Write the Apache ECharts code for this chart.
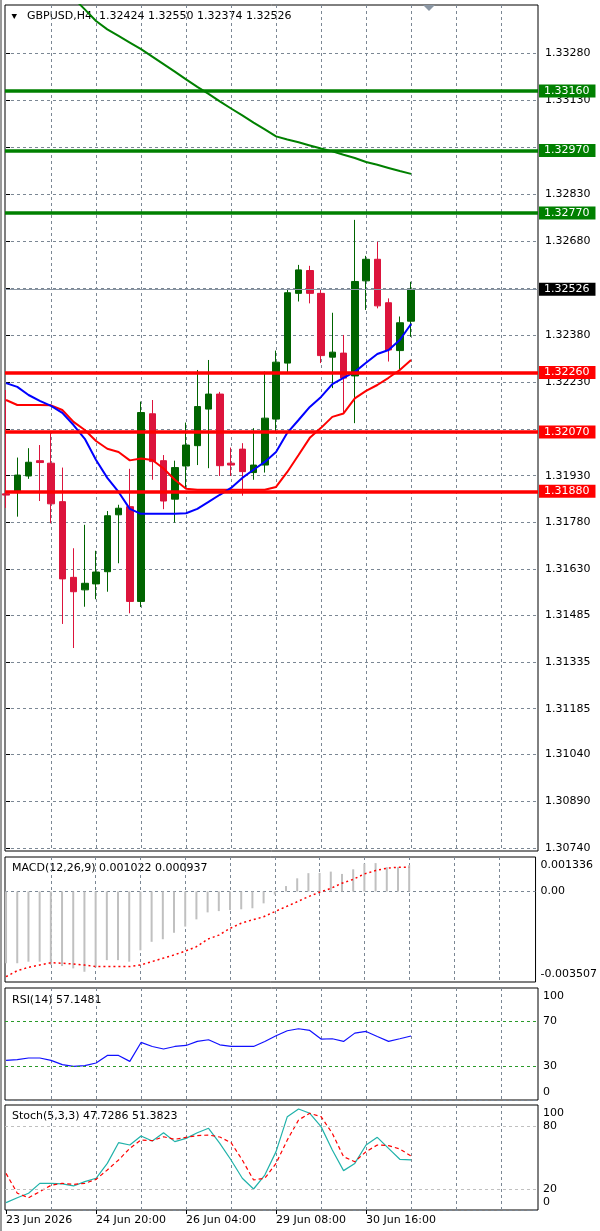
<!DOCTYPE html>
<html>
<head>
<meta charset="utf-8">
<title>GBPUSD H4</title>
<script src="https://cdn.jsdelivr.net/npm/echarts@6.0.0/dist/echarts.min.js"></script>
<style>html,body{margin:0;padding:0;background:#fff;}</style>
</head>
<body>
<div id="main" style="width:600px;height:1231px;"></div>
<script type="text/javascript">
// price grid lines (main window)
var priceTicks = ['1.33280', '1.33130', '1.32980', '1.32830', '1.32680', '1.32530', '1.32380', '1.32230', '1.32080',
    '1.31930', '1.31780', '1.31630', '1.31485', '1.31335', '1.31185', '1.31040', '1.30890', '1.30740'];
// price labels that are not hidden behind a level box
var priceLabels = ['1.33280', '1.33130', '1.32830', '1.32680', '1.32380', '1.32230',
    '1.31930', '1.31780', '1.31630', '1.31485', '1.31335', '1.31185', '1.31040', '1.30890', '1.30740'];
// time labels at bar positions
var xTickIdx = [0, 8, 16, 24, 32];
var xTickLabels = ['23 Jun 2026', '24 Jun 20:00', '26 Jun 04:00', '29 Jun 08:00', '30 Jun 16:00'];
// vertical grid every 4 bars
var vGridIdx = [4, 8, 12, 16, 20, 24, 28, 32, 36, 40, 44];

// H4 candles
var opens  = [1.31872, 1.31876, 1.31929, 1.31978, 1.31970, 1.31847, 1.31605, 1.31565, 1.31584, 1.31623, 1.31805, 1.31831, 1.31528,
    1.32128, 1.31978, 1.31855, 1.31961, 1.32026, 1.32143, 1.32191, 1.31970, 1.32015, 1.31940, 1.31964, 1.32111, 1.32290,
    1.32513, 1.32586, 1.32513, 1.32309, 1.32322, 1.32249, 1.32553, 1.32622, 1.32483, 1.32330, 1.32424];
var closes = [1.31868, 1.31932, 1.31973, 1.31972, 1.31840, 1.31600, 1.31559, 1.31586, 1.31622, 1.31802, 1.31826, 1.31528, 1.32132,
    1.31975, 1.31849, 1.31956, 1.32028, 1.32151, 1.32191, 1.31962, 1.31964, 1.31943, 1.31964, 1.32114, 1.32293, 1.32515,
    1.32588, 1.32513, 1.32314, 1.32325, 1.32242, 1.32551, 1.32622, 1.32473, 1.32332, 1.32419, 1.32526];
var lows   = [1.31827, 1.31799, 1.31920, 1.31849, 1.31778, 1.31456, 1.31379, 1.31511, 1.31535, 1.31559, 1.31650, 1.31490, 1.31510,
    1.31917, 1.31823, 1.31780, 1.31890, 1.31964, 1.31954, 1.31929, 1.31929, 1.31866, 1.31917, 1.31940, 1.32071, 1.32258,
    1.32487, 1.32481, 1.32290, 1.32210, 1.32130, 1.32098, 1.32460, 1.32465, 1.32295, 1.32266, 1.32374];
var highs  = [1.32204, 1.31988, 1.32018, 1.32028, 1.32071, 1.31956, 1.31698, 1.31773, 1.31690, 1.31817, 1.31837, 1.31952, 1.32167,
    1.32172, 1.31996, 1.31978, 1.32100, 1.32268, 1.32300, 1.32198, 1.32020, 1.32034, 1.32082, 1.32263, 1.32330, 1.32524,
    1.32604, 1.32601, 1.32526, 1.32451, 1.32380, 1.32748, 1.32633, 1.32678, 1.32497, 1.32439, 1.32550];

// moving averages
var maFast = [1.32226, 1.32214, 1.32188, 1.32169, 1.32153, 1.32131, 1.32092, 1.32048, 1.31980, 1.31923, 1.31878, 1.31824, 1.31808,
    1.31808, 1.31808, 1.31808, 1.31810, 1.31824, 1.31846, 1.31869, 1.31891, 1.31923, 1.31949, 1.31974, 1.32006, 1.32067,
    1.32108, 1.32150, 1.32182, 1.32223, 1.32243, 1.32262, 1.32291, 1.32319, 1.32332, 1.32364, 1.32415];
var maSlow = [1.32172, 1.32156, 1.32156, 1.32156, 1.32155, 1.32140, 1.32102, 1.32076, 1.32041, 1.32016, 1.32006, 1.31979, 1.31985,
    1.31980, 1.31953, 1.31917, 1.31888, 1.31885, 1.31885, 1.31885, 1.31885, 1.31885, 1.31885, 1.31885, 1.31894, 1.31942,
    1.31996, 1.32051, 1.32083, 1.32118, 1.32129, 1.32177, 1.32201, 1.32220, 1.32243, 1.32268, 1.32300];
var maLongStart = 6;
var maLong = [1.33457, 1.33421, 1.33384, 1.33357, 1.33336, 1.33315, 1.33294, 1.33270, 1.33246, 1.33222, 1.33197, 1.33173,
    1.33151, 1.33127, 1.33104, 1.33082, 1.33059, 1.33037, 1.33015, 1.33005, 1.32996, 1.32986, 1.32976, 1.32967, 1.32956,
    1.32946, 1.32933, 1.32924, 1.32914, 1.32904, 1.32895];

// horizontal levels
var levelsRes = [1.33160, 1.32970, 1.32770];
var levelsSup = [1.32260, 1.32070, 1.31880];
var lastPrice = 1.32526;

// MACD(12,26,9)
var macdMain = [-0.00278, -0.00278, -0.00272, -0.00272, -0.00285, -0.00289, -0.00298, -0.00311, -0.00294, -0.00266, -0.00266,
    -0.00272, -0.00228, -0.00195, -0.00185, -0.00160, -0.00136, -0.00108, -0.00081, -0.00076, -0.00072, -0.00069, -0.00065,
    -0.00046, -0.00012, 0.00021, 0.00051, 0.00071, 0.00072, 0.00077, 0.00068, 0.00086, 0.00108, 0.00110, 0.00094, 0.00094, 0.001022];
var macdSignal = [-0.00330, -0.00307, -0.00294, -0.00285, -0.00276, -0.00278, -0.00281, -0.00285, -0.00291, -0.00291, -0.00291,
    -0.00291, -0.00285, -0.00272, -0.00259, -0.00246, -0.00231, -0.00214, -0.00185, -0.00169, -0.00143, -0.00123, -0.00110,
    -0.00098, -0.00078, -0.00059, -0.00040, -0.00020, -0.00003, 0.00012, 0.00032, 0.00047, 0.00068, 0.00081, 0.00090, 0.00094, 0.000937];
var macdTicks = [-0.003507, 0, 0.001336];
var macdTickLabels = ['-0.003507', '0.00', '0.001336'];

// RSI(14)
var rsi = [35.4, 36.0, 37.5, 37.5, 35.4, 31.6, 30.0, 30.7, 33.0, 39.8, 39.8, 34.5, 51.4, 47.8, 45.5, 47.8, 48.7, 52.3, 53.8,
    49.3, 47.8, 47.8, 47.8, 52.3, 57.3, 61.8, 63.6, 62.1, 54.4, 54.7, 52.3, 59.7, 61.2, 56.7, 52.3, 54.7, 57.1481];
var rsiTicks = [0, 30, 70, 100];
var rsiLevels = [30, 70];

// Stochastic(5,3,3)
var stochK = [7.0, 11.7, 15.9, 25.4, 25.4, 24.8, 22.9, 27.0, 30.2, 44.4, 64.1, 61.9, 70.5, 65.7, 73.6, 65.1, 68.2, 73.6, 77.8,
    63.5, 47.6, 30.2, 20.0, 33.3, 55.6, 88.9, 96.2, 92.1, 79.4, 57.1, 37.5, 44.4, 61.9, 69.2, 58.7, 48.3, 47.7286];
var stochD = [34.9, 16.0, 11.7, 17.5, 23.5, 25.4, 24.4, 25.4, 29.2, 38.1, 47.6, 58.7, 66.7, 66.0, 69.8, 67.3, 69.2, 70.8, 71.4,
    69.5, 64.1, 47.6, 28.6, 30.2, 44.4, 66.7, 85.7, 92.1, 88.9, 73.0, 50.8, 46.0, 55.6, 61.9, 61.3, 58.1, 51.3823];
var stochTicks = [0, 20, 80, 100];
var stochLevels = [20, 80];

var FONT = 'DejaVu Sans';
var gridColor = '#7b8794';
var xMin = -0.0933, xMax = 47.2844;

var myChart = echarts.init(document.getElementById('main'));

function pairs(arr, start) {
    start = start || 0;
    return arr.map(function (v, i) { return [i + start, v]; });
}

function xAx(gi) {
    return {
        type: 'value', gridIndex: gi, min: xMin, max: xMax,
        axisLine: { show: false },
        axisTick: { show: false, customValues: vGridIdx },
        axisLabel: { show: false },
        splitLine: { show: true, lineStyle: { color: gridColor, type: [3, 3], width: 1 } }
    };
}

// labels at the top / bottom edge of an indicator window are pushed inside
function edgeLabel(ticks, labels) {
    return function (v) {
        var k = ticks.indexOf(v);
        var s = k >= 0 ? labels[k] : String(v);
        if (v === ticks[ticks.length - 1]) return '{t|' + s + '}';
        if (v === ticks[0]) return '{b|' + s + '}';
        return s;
    };
}
var edgeRich = {
    t: { padding: [16, 0, 0, 0], fontFamily: FONT, fontSize: 11, color: '#000' },
    b: { padding: [0, 0, 16, 0], fontFamily: FONT, fontSize: 11, color: '#000' }
};

function indY(gi, min, max, ticks, labels) {
    return {
        type: 'value', gridIndex: gi, position: 'right', min: min, max: max,
        axisLine: { show: false },
        axisTick: { show: false, customValues: [min] },
        axisLabel: {
            show: true, customValues: ticks, margin: 5, color: '#000', fontFamily: FONT, fontSize: 11,
            formatter: edgeLabel(ticks, labels), rich: edgeRich
        },
        splitLine: { show: true, lineStyle: { color: gridColor, type: [3, 3], width: 1 } }
    };
}

var priceVals = priceTicks.map(Number);
var priceLabelVals = priceLabels.map(Number);
var candleData = opens.map(function (o, i) { return [i, o, closes[i], lows[i], highs[i]]; });

var levelLines = [];
levelsRes.forEach(function (v) {
    levelLines.push({ yAxis: v, lineStyle: { color: '#008000', width: 3.5, type: 'solid' },
        label: { backgroundColor: '#008000', color: '#fff' } });
});
levelsSup.forEach(function (v) {
    levelLines.push({ yAxis: v, lineStyle: { color: '#ff0000', width: 3.5, type: 'solid' },
        label: { backgroundColor: '#ff0000', color: '#fff' } });
});
levelLines.push({ yAxis: lastPrice, lineStyle: { color: '#8a96a3', width: 1, type: 'solid' },
    label: { backgroundColor: '#000', color: '#fff' } });

var option = {
    animation: false,
    backgroundColor: '#fff',
    grid: [
        { left: 5, top: 5, width: 533, height: 846, show: true, borderColor: '#000', borderWidth: 1 },
        { left: 5, top: 857, width: 533, height: 125, show: true, borderColor: '#000', borderWidth: 1 },
        { left: 5, top: 988, width: 533, height: 112, show: true, borderColor: '#000', borderWidth: 1 },
        { left: 5, top: 1105, width: 533, height: 105, show: true, borderColor: '#000', borderWidth: 1 }
    ],
    xAxis: [
        xAx(0), xAx(1), xAx(2), xAx(3),
        {
            type: 'value', gridIndex: 3, position: 'bottom', min: xMin, max: xMax,
            axisLine: { show: false },
            axisTick: { show: true, customValues: xTickIdx, length: 4, lineStyle: { color: '#000' } },
            axisLabel: {
                show: true, customValues: xTickIdx, align: 'left', margin: 5, color: '#000',
                fontFamily: FONT, fontSize: 11,
                formatter: function (v) { return xTickLabels[xTickIdx.indexOf(v)]; }
            },
            splitLine: { show: false }
        }
    ],
    yAxis: [
        {
            type: 'value', gridIndex: 0, position: 'right', min: 1.30730, max: 1.33435,
            axisLine: { show: false },
            axisTick: { show: true, customValues: priceVals, length: 4, lineStyle: { color: '#000' } },
            axisLabel: {
                show: true, customValues: priceLabelVals, margin: 7, color: '#000', fontFamily: FONT, fontSize: 11,
                formatter: function (v) { return v.toFixed(5); }
            },
            splitLine: { show: true, lineStyle: { color: gridColor, type: [3, 3], width: 1 } }
        },
        (function () {
            var a = indY(1, -0.003507, 0.001336, macdTicks, macdTickLabels);
            a.axisTick.customValues = [0];
            return a;
        })(),
        indY(2, 0, 100, rsiTicks, rsiTicks.map(String)),
        indY(3, 0, 100, stochTicks, stochTicks.map(String))
    ],
    graphic: [
        { type: 'rect', shape: { x: 0, y: 0, width: 2, height: 1231 }, style: { fill: '#9a9a9a' } },
        { type: 'polygon', shape: { points: [[11.5, 14], [17, 14], [14.25, 19]] }, style: { fill: '#000' } },
        { type: 'polygon', shape: { points: [[423, 5], [435, 5], [429, 11]] }, style: { fill: '#8a96a3' } },
        { type: 'text', x: 27, y: 16.5, style: { text: 'GBPUSD,H4  1.32424 1.32550 1.32374 1.32526',
            font: '11px "DejaVu Sans"', fill: '#000', verticalAlign: 'middle' } },
        { type: 'text', x: 12, y: 868, style: { text: 'MACD(12,26,9) 0.001022 0.000937',
            font: '11px "DejaVu Sans"', fill: '#000', verticalAlign: 'middle' } },
        { type: 'text', x: 12, y: 1000, style: { text: 'RSI(14) 57.1481',
            font: '11px "DejaVu Sans"', fill: '#000', verticalAlign: 'middle' } },
        { type: 'text', x: 12, y: 1116, style: { text: 'Stoch(5,3,3) 47.7286 51.3823',
            font: '11px "DejaVu Sans"', fill: '#000', verticalAlign: 'middle' } }
    ],
    series: [
        {
            name: 'GBPUSD', type: 'candlestick', xAxisIndex: 0, yAxisIndex: 0, clip: true,
            dimensions: ['idx', 'open', 'close', 'lowest', 'highest'],
            encode: { x: 'idx', y: ['open', 'close', 'lowest', 'highest'] },
            data: candleData, barWidth: 7,
            itemStyle: { color: '#006400', color0: '#dc143c', borderColor: '#006400', borderColor0: '#dc143c', borderWidth: 1 },
            markLine: {
                silent: true, symbol: 'none', precision: 5,
                label: {
                    show: true, position: 'end', distance: 1, fontFamily: FONT, fontSize: 11,
                    padding: [1, 6, 1, 5], formatter: function (p) { return Number(p.value).toFixed(5); }
                },
                data: levelLines
            }
        },
        { name: 'MA long', type: 'line', xAxisIndex: 0, yAxisIndex: 0, data: pairs(maLong, maLongStart),
            symbol: 'none', lineStyle: { color: '#008000', width: 2 } },
        { name: 'MA slow', type: 'line', xAxisIndex: 0, yAxisIndex: 0, data: pairs(maSlow),
            symbol: 'none', lineStyle: { color: '#ff0000', width: 2 } },
        { name: 'MA fast', type: 'line', xAxisIndex: 0, yAxisIndex: 0, data: pairs(maFast),
            symbol: 'none', lineStyle: { color: '#0000ff', width: 2 } },
        { name: 'MACD', type: 'bar', xAxisIndex: 1, yAxisIndex: 1, data: pairs(macdMain),
            barWidth: 2, itemStyle: { color: '#c0c0c0' } },
        { name: 'Signal', type: 'line', xAxisIndex: 1, yAxisIndex: 1, data: pairs(macdSignal),
            symbol: 'none', lineStyle: { color: '#ff0000', width: 1.5, type: [2, 3] } },
        { name: 'RSI', type: 'line', xAxisIndex: 2, yAxisIndex: 2, data: pairs(rsi),
            symbol: 'none', lineStyle: { color: '#1010ff', width: 1.2 },
            markLine: { silent: true, symbol: 'none', label: { show: false },
                lineStyle: { color: '#2a9a2a', type: [3, 3], width: 1 },
                data: rsiLevels.map(function (v) { return { yAxis: v }; }) } },
        { name: 'Stoch main', type: 'line', xAxisIndex: 3, yAxisIndex: 3, data: pairs(stochK),
            symbol: 'none', lineStyle: { color: '#20b2aa', width: 1.2 },
            markLine: { silent: true, symbol: 'none', label: { show: false },
                lineStyle: { color: '#c0c0c0', type: [3, 3], width: 1 },
                data: stochLevels.map(function (v) { return { yAxis: v }; }) } },
        { name: 'Stoch signal', type: 'line', xAxisIndex: 3, yAxisIndex: 3, data: pairs(stochD),
            symbol: 'none', lineStyle: { color: '#ff0000', width: 1.2, type: [4, 3] } }
    ]
};

myChart.setOption(option);
</script>
</body>
</html>
